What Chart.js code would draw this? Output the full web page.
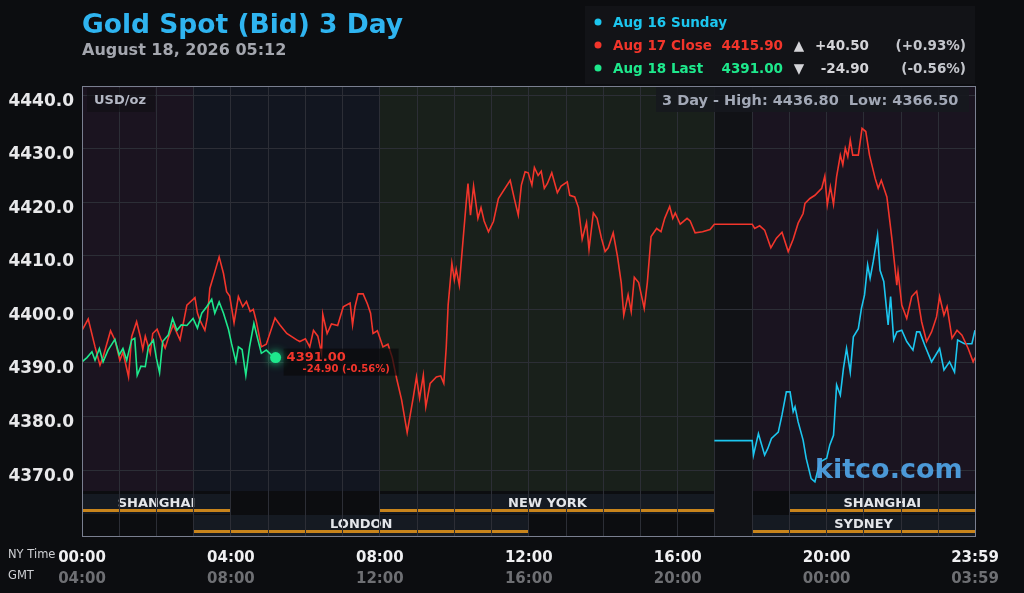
<!DOCTYPE html>
<html>
<head>
<meta charset="utf-8">
<script src="https://cdn.jsdelivr.net/npm/chart.js@4.4.1/dist/chart.umd.min.js"></script>
<style>
  html, body { margin: 0; padding: 0; background: #0c0d10; }
  #wrap { width: 1024px; height: 593px; }
</style>
</head>
<body>
<div id="wrap"><canvas id="gold"></canvas></div>
<script>
// times are minutes after 00:00 NY time
const aug16Times = [1019, 1080, 1082, 1090, 1100, 1105, 1111, 1122, 1128, 1135, 1141, 1146, 1149, 1154, 1162,
  1167, 1175, 1181, 1189, 1200, 1205, 1211, 1216, 1222, 1227, 1232, 1238, 1243, 1251, 1256, 1261, 1266,
  1270, 1275, 1282, 1286, 1292, 1299, 1303, 1308, 1313, 1321, 1329, 1339, 1345, 1350, 1358, 1369, 1382,
  1389, 1398, 1406, 1411, 1422, 1434, 1439];
const aug16Values = [4375.5, 4375.5, 4372.8, 4376.8, 4372.8, 4374.0, 4375.9, 4377.1, 4380.3, 4384.6, 4384.6,
  4380.9, 4381.8, 4379.0, 4375.6, 4372.2, 4368.4, 4367.8, 4371.5, 4372.2, 4374.7, 4376.5, 4385.9, 4384.0,
  4389.0, 4392.7, 4388.3, 4394.9, 4396.4, 4400.2, 4402.7, 4408.3, 4405.8, 4408.9, 4413.9, 4407.3, 4405.2,
  4397.1, 4402.4, 4394.3, 4395.8, 4396.1, 4394.0, 4392.4, 4395.8, 4395.8, 4393.3, 4390.2, 4392.7, 4388.7,
  4390.2, 4388.3, 4394.3, 4393.6, 4393.6, 4396.1];

const aug17Times = [0, 10, 21, 29, 34, 46, 53, 61, 66, 70, 75, 80, 88, 94, 98, 102, 110, 114, 121, 127, 134,
  140, 147, 158, 169, 182, 186, 190, 198, 202, 206, 214, 221, 228, 233, 238, 245, 252, 259, 265, 271, 276,
  281, 289, 297, 311, 319, 330, 346, 351, 360, 367, 373, 380, 386, 388, 395, 402, 412, 421, 432, 436, 440,
  445, 453, 460, 465, 469, 476, 485, 493, 500, 507, 515, 524, 534, 539, 544, 550, 554, 561, 571, 578, 583,
  587, 590, 596, 600, 603, 608, 614, 619, 622, 626, 631, 638, 643, 648, 655, 663, 671, 690, 697, 703, 708,
  714, 719, 725, 729, 735, 740, 745, 750, 757, 766, 772, 782, 786, 794, 800, 806, 813, 817, 824, 830, 837,
  843, 848, 856, 863, 869, 873, 880, 885, 890, 897, 906, 911, 917, 926, 933, 939, 947, 952, 956, 964, 975,
  980, 988, 1000, 1012, 1019, 1080, 1084, 1092, 1100, 1110, 1119, 1128, 1138, 1146, 1154, 1162, 1165, 1173,
  1181, 1192, 1197, 1201, 1206, 1211, 1216, 1222, 1226, 1230, 1234, 1238, 1242, 1251, 1257, 1263, 1269,
  1278, 1283, 1288, 1297, 1305, 1313, 1315, 1321, 1329, 1337, 1345, 1353, 1361, 1369, 1377, 1382, 1389,
  1394, 1402, 1410, 1418, 1428, 1436, 1439];
const aug17Values = [4396.1, 4398.2, 4393.0, 4389.6, 4391.1, 4396.0, 4394.3, 4390.5, 4392.0, 4390.0, 4387.4,
  4394.9, 4397.7, 4394.9, 4392.5, 4395.0, 4391.8, 4395.5, 4396.3, 4394.5, 4392.8, 4395.0, 4397.1, 4394.3,
  4400.8, 4402.2, 4399.3, 4398.0, 4396.1, 4398.5, 4403.9, 4407.0, 4409.8, 4406.7, 4403.3, 4402.5, 4397.5,
  4402.4, 4400.5, 4401.5, 4399.6, 4400.0, 4397.7, 4393.0, 4393.5, 4398.4, 4397.1, 4395.5, 4394.3, 4394.0,
  4394.5, 4393.0, 4396.1, 4395.0, 4391.8, 4399.1, 4395.5, 4397.3, 4397.0, 4400.5, 4401.2, 4397.1, 4400.5,
  4402.9, 4402.9, 4401.0, 4399.3, 4395.5, 4396.0, 4393.0, 4393.5, 4391.0, 4387.1, 4383.1, 4377.0, 4383.7,
  4387.4, 4383.4, 4387.7, 4381.8, 4386.2, 4387.4, 4387.6, 4386.2, 4393.0, 4400.8, 4408.6, 4405.5, 4407.5,
  4404.5, 4412.9, 4419.8, 4423.5, 4417.6, 4423.0, 4417.0, 4419.0, 4416.5, 4414.5, 4416.4, 4420.7, 4424.1,
  4420.5, 4417.6, 4423.2, 4425.7, 4425.5, 4423.2, 4426.5, 4425.0, 4425.8, 4422.6, 4423.5, 4425.5, 4421.8,
  4423.0, 4423.8, 4421.3, 4421.0, 4419.0, 4413.1, 4416.2, 4411.2, 4418.0, 4417.0, 4413.3, 4410.8, 4411.5,
  4414.3, 4409.8, 4404.9, 4398.9, 4402.7, 4399.6, 4406.0, 4405.0, 4400.2, 4405.0, 4413.6, 4415.1, 4414.5,
  4417.0, 4419.2, 4417.0, 4418.0, 4415.9, 4417.0, 4416.5, 4414.3, 4414.5, 4414.9, 4415.9, 4415.9, 4415.1,
  4415.6, 4414.8, 4411.5, 4413.3, 4414.4, 4410.8, 4413.1, 4416.1, 4417.9, 4419.8, 4420.7, 4421.3, 4422.6,
  4424.9, 4419.5, 4422.9, 4419.6, 4424.8, 4428.8, 4427.0, 4430.1, 4428.5, 4431.6, 4428.8, 4428.8, 4433.8,
  4433.2, 4428.8, 4424.5, 4422.6, 4424.1, 4421.0, 4413.3, 4404.5, 4407.0, 4400.8, 4398.3, 4402.4, 4403.4,
  4397.7, 4394.0, 4395.8, 4398.6, 4402.4, 4398.9, 4400.5, 4394.6, 4396.1, 4395.2, 4392.7, 4390.2, 4391.0];

const aug18Times = [0, 8, 16, 21, 28, 34, 42, 53, 60, 66, 72, 80, 85, 89, 95, 102, 107, 115, 120, 125, 130,
  139, 146, 153, 160, 169, 179, 186, 193, 201, 209, 214, 221, 228, 236, 241, 248, 252, 258, 264, 270, 277,
  282, 289, 297, 305, 312];
const aug18Values = [4390.2, 4391.0, 4392.1, 4390.5, 4392.7, 4390.2, 4392.4, 4394.4, 4391.5, 4392.7, 4390.5,
  4394.3, 4394.6, 4387.7, 4389.4, 4389.3, 4393.0, 4394.3, 4390.8, 4388.2, 4394.0, 4395.2, 4398.3, 4396.1,
  4397.1, 4397.0, 4398.3, 4396.5, 4399.3, 4400.5, 4401.9, 4399.3, 4401.4, 4399.3, 4396.3, 4393.6, 4390.2,
  4393.0, 4392.5, 4387.7, 4393.0, 4397.4, 4395.0, 4391.8, 4392.4, 4391.5, 4391.0];

const nyTicks = [0, 240, 480, 720, 960, 1200, 1439];
const nyLabels = ['00:00', '04:00', '08:00', '12:00', '16:00', '20:00', '23:59'];
const gmtLabels = ['04:00', '08:00', '12:00', '16:00', '20:00', '00:00', '03:59'];

// background shading by market hours
const bandStarts = [0, 180, 480, 1020, 1080];
const bandEnds = [180, 480, 1020, 1080, 1439];
const bandColors = ['#1b1420', '#121620', '#19201b', '#111216', '#1a1420'];

// trading sessions strip
const sessionNames = ['SHANGHAI', 'NEW YORK', 'SHANGHAI', 'LONDON', 'SYDNEY'];
const sessionStarts = [0, 480, 1140, 180, 1080];
const sessionEnds = [240, 1020, 1439, 720, 1439];
const sessionRows = [0, 0, 0, 1, 1];

const FONT = "'DejaVu Sans', sans-serif";
const RED = '#f2352b';
const CYAN = '#1cc6ef';
const GREEN = '#1ee88c';

const toPoints = (ts, vs) => ts.map((t, i) => ({ x: t, y: vs[i] }));

const kitcoPlugin = {
  id: 'kitco',
  beforeDraw(chart) {
    const { ctx, chartArea: a, scales: { x } } = chart;
    ctx.save();
    ctx.fillStyle = '#0c0d10';
    ctx.fillRect(0, 0, chart.width, chart.height);

    bandStarts.forEach((s, i) => {
      const x0 = x.getPixelForValue(s);
      const x1 = x.getPixelForValue(bandEnds[i]);
      ctx.fillStyle = bandColors[i];
      ctx.fillRect(x0, a.top, x1 - x0, a.bottom - a.top);
    });

    // closed hour column through the session strip
    const c0 = x.getPixelForValue(1020), c1 = x.getPixelForValue(1080);
    ctx.fillStyle = '#111216';
    ctx.fillRect(c0, a.bottom, c1 - c0, 45);

    sessionNames.forEach((name, i) => {
      const x0 = x.getPixelForValue(sessionStarts[i]);
      const x1 = x.getPixelForValue(sessionEnds[i]);
      const top = a.bottom + (sessionRows[i] === 0 ? 3 : 24);
      const h = sessionRows[i] === 0 ? 20 : 21;
      ctx.fillStyle = '#151a22';
      ctx.fillRect(x0, top, x1 - x0, h);
      ctx.fillStyle = '#c8841c';
      ctx.fillRect(x0, top + 15, x1 - x0, 3);
      ctx.fillStyle = '#e4e6ea';
      ctx.font = 'bold 13px ' + FONT;
      ctx.textAlign = 'center';
      ctx.textBaseline = 'middle';
      ctx.fillText(name, (x0 + x1) / 2, top + 10);
    });
    ctx.restore();
  },
  afterDatasetsDraw(chart) {
    const { ctx, chartArea: a } = chart;
    ctx.save();

    // USD/oz tag
    ctx.fillStyle = 'rgba(14,14,18,0.55)';
    ctx.fillRect(a.left + 5, a.top + 2, 68, 24);
    ctx.fillStyle = '#b4b8c4';
    ctx.font = 'bold 13px ' + FONT;
    ctx.textBaseline = 'middle';
    ctx.textAlign = 'left';
    ctx.fillText('USD/oz', a.left + 12, a.top + 15);

    // high / low box
    ctx.fillStyle = 'rgba(22,24,30,0.9)';
    ctx.fillRect(656, a.top + 1, 313, 25);
    ctx.fillStyle = '#a2a8b6';
    ctx.font = 'bold 14.5px ' + FONT;
    ctx.fillText('3 Day - High: 4436.80  Low: 4366.50', 662, a.top + 15);

    // watermark
    ctx.fillStyle = 'rgba(78,160,225,0.95)';
    ctx.font = 'bold 27px ' + FONT;
    ctx.textBaseline = 'alphabetic';
    ctx.fillText('kitco.com', 815, 478);

    // last price marker
    const meta = chart.getDatasetMeta(0);
    const p = meta.data[meta.data.length - 1];
    ctx.fillStyle = 'rgba(10,10,12,0.7)';
    ctx.fillRect(p.x + 8, p.y - 9, 115, 27);
    ctx.shadowColor = GREEN;
    ctx.shadowBlur = 10;
    ctx.fillStyle = GREEN;
    ctx.beginPath();
    ctx.arc(p.x, p.y, 5.5, 0, Math.PI * 2);
    ctx.fill();
    ctx.shadowBlur = 0;
    ctx.fillStyle = RED;
    ctx.textBaseline = 'middle';
    ctx.font = 'bold 13px ' + FONT;
    ctx.fillText('4391.00', p.x + 11, p.y);
    ctx.font = 'bold 10px ' + FONT;
    ctx.fillText('-24.90 (-0.56%)', p.x + 27, p.y + 12);
    ctx.restore();
  },
  afterDraw(chart) {
    const { ctx, chartArea: a } = chart;
    ctx.save();
    // frame
    ctx.strokeStyle = '#7a7f90';
    ctx.lineWidth = 1;
    ctx.strokeRect(a.left + 0.5, a.top + 0.5, a.right - a.left, a.bottom + 45 - a.top);

    // title
    ctx.textAlign = 'left';
    ctx.textBaseline = 'alphabetic';
    ctx.fillStyle = '#2fb4f0';
    ctx.font = 'bold 26.5px ' + FONT;
    ctx.fillText('Gold Spot (Bid) 3 Day', 82, 33);
    ctx.fillStyle = '#a4a6ae';
    ctx.font = 'bold 16px ' + FONT;
    ctx.fillText('August 18, 2026 05:12', 82, 55);

    // axis captions
    ctx.fillStyle = '#cfd0d4';
    ctx.font = '11.5px ' + FONT;
    ctx.textBaseline = 'middle';
    ctx.fillText('NY Time', 8, 555);
    ctx.fillText('GMT', 8, 576);

    // legend box
    ctx.fillStyle = '#121317';
    ctx.fillRect(585, 6, 390, 78);
    const rows = [
      { c: CYAN, y: 23, name: 'Aug 16 Sunday' },
      { c: RED, y: 46, name: 'Aug 17 Close', price: '4415.90', arrow: '\u25B2', chg: '+40.50', pct: '(+0.93%)' },
      { c: GREEN, y: 69, name: 'Aug 18 Last', price: '4391.00', arrow: '\u25BC', chg: '-24.90', pct: '(-0.56%)' }
    ];
    rows.forEach(r => {
      ctx.fillStyle = r.c;
      ctx.beginPath();
      ctx.arc(598, r.y - 1, 3.5, 0, Math.PI * 2);
      ctx.fill();
      ctx.font = 'bold 13.5px ' + FONT;
      ctx.textAlign = 'left';
      ctx.fillText(r.name, 613, r.y);
      if (r.price) {
        ctx.textAlign = 'right';
        ctx.fillText(r.price, 783, r.y);
        ctx.fillStyle = '#d4d4d8';
        ctx.textAlign = 'center';
        ctx.fillText(r.arrow, 799, r.y);
        ctx.textAlign = 'right';
        ctx.fillText(r.chg, 869, r.y);
        ctx.fillStyle = '#c4c6cc';
        ctx.fillText(r.pct, 966, r.y);
      }
    });
    ctx.restore();
  }
};

const hourTicks = [];
for (let h = 0; h < 24; h++) hourTicks.push({ value: h * 60 });
hourTicks.push({ value: 1439 });

new Chart(document.getElementById('gold'), {
  type: 'line',
  data: {
    datasets: [
      {
        label: 'Aug 18 Last',
        data: toPoints(aug18Times, aug18Values),
        borderColor: GREEN,
        borderWidth: 1.6,
        pointRadius: 0,
        tension: 0,
        order: 0
      },
      {
        label: 'Aug 17 Close',
        data: toPoints(aug17Times, aug17Values),
        borderColor: RED,
        borderWidth: 1.6,
        pointRadius: 0,
        tension: 0,
        order: 1
      },
      {
        label: 'Aug 16 Sunday',
        data: toPoints(aug16Times, aug16Values),
        borderColor: CYAN,
        borderWidth: 1.6,
        pointRadius: 0,
        tension: 0,
        order: 2
      }
    ]
  },
  options: {
    responsive: true,
    maintainAspectRatio: false,
    animation: false,
    events: [],
    layout: { padding: { top: 86, right: 49, left: 0, bottom: 0 } },
    plugins: {
      legend: { display: false },
      tooltip: { enabled: false }
    },
    scales: {
      x: {
        type: 'linear',
        min: 0,
        max: 1439,
        weight: 0,
        afterBuildTicks: scale => { scale.ticks = hourTicks.map(t => ({ value: t.value })); },
        afterFit: scale => { scale.height = 75; },
        grid: { color: '#2c2e36', tickLength: 45, drawTicks: true },
        border: { display: false },
        ticks: {
          autoSkip: false,
          maxRotation: 0,
          padding: 13,
          color: '#f0f0f2',
          font: { family: FONT, size: 15, weight: 'bold' },
          callback: v => {
            const i = nyTicks.indexOf(v);
            return i >= 0 ? nyLabels[i] : '';
          }
        }
      },
      x2: {
        type: 'linear',
        position: 'bottom',
        min: 0,
        max: 1439,
        weight: 1,
        afterBuildTicks: scale => { scale.ticks = nyTicks.map(v => ({ value: v })); },
        afterFit: scale => { scale.height = 27; },
        grid: { display: false, drawTicks: false },
        border: { display: false },
        ticks: {
          autoSkip: false,
          maxRotation: 0,
          padding: 4,
          color: '#6e6f73',
          font: { family: FONT, size: 15, weight: 'bold' },
          callback: v => {
            const i = nyTicks.indexOf(v);
            return i >= 0 ? gmtLabels[i] : '';
          }
        }
      },
      y: {
        min: 4366.1,
        max: 4441.7,
        afterFit: scale => { scale.width = 82; },
        grid: { color: '#2c2e36', drawTicks: false },
        border: { display: false },
        ticks: {
          stepSize: 10,
          includeBounds: false,
          padding: 8,
          labelOffset: 6,
          color: '#e8e8ea',
          font: { family: FONT, size: 17, weight: 'bold' },
          callback: v => v.toFixed(1)
        }
      }
    }
  },
  plugins: [kitcoPlugin]
});
</script>
</body>
</html>
